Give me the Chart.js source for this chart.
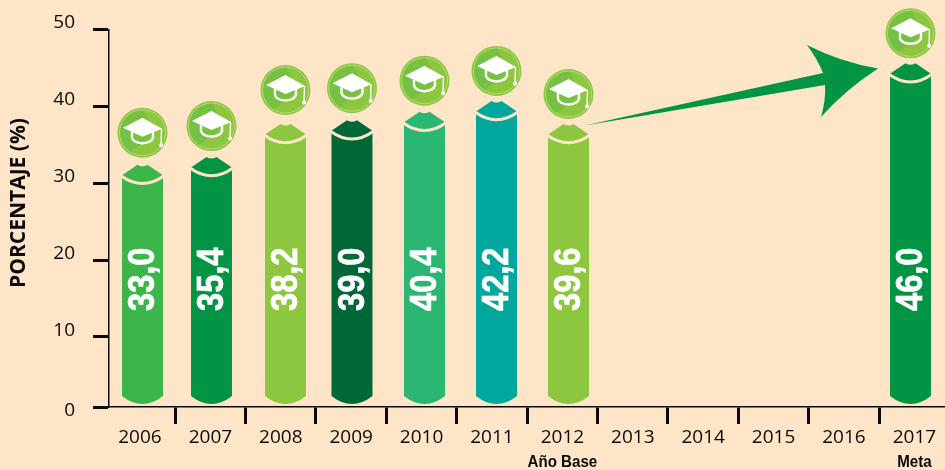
<!DOCTYPE html>
<html><head><meta charset="utf-8">
<style>html,body{margin:0;padding:0;background:#FEE5C8;overflow:hidden;width:945px;height:470px}canvas{display:block}</style>
<script src="https://cdn.jsdelivr.net/npm/chart.js@4/dist/chart.umd.js"></script>
</head><body><canvas id="c" width="960" height="470" style="width:960px;height:470px"></canvas>
<script>
// ---- data ----
const years = ['2006','2007','2008','2009','2010','2011','2012','2013','2014','2015','2016','2017'];
const barHeights = [32.4,33.4,37.7,38.2,39.3,40.7,37.7,null,null,null,null,45.6];
const barLabels = ['33,0','35,4','38,2','39,0','40,4','42,2','39,6',null,null,null,null,'46,0'];
const subLabels = ['','','','','','','Año Base','','','','','Meta'];
const yTicks = [50,40,30,20,10];
const yAxisTitle = 'PORCENTAJE (%)';
// ---- style ----
const BG='#FEE5C8', INK='#0A0A0A';
const barColors=['#3CB54A','#009444','#8DC63F','#006838','#2BB673','#00A79D','#8DC63F',null,null,null,null,'#009444'];
const nudge=[2.5,1.1,4.7,0.8,2.9,4.5,6.1,0,0,0,0,-3.9];
const badgeGap=[32,31,34,32,31,30,30,0,0,0,0,30];
const AXIS_FLOOR=0.87;   // the drawn axis squeezes the last interval: "0" sits at this height
const BAR_BASE=1.26;

Chart.BarElement.prototype.draw=function(ctx){
  const {x,y,base,width}=this, o=this.options, w=width/2;
  ctx.save();
  ctx.fillStyle=o.backgroundColor;
  ctx.beginPath();
  ctx.moveTo(x-w,y+10.5);
  ctx.lineTo(x-5,y);
  ctx.quadraticCurveTo(x,y+3,x+5,y);
  ctx.lineTo(x+w,y+10.5);
  ctx.lineTo(x+w,base-8);
  ctx.quadraticCurveTo(x,base+8,x-w,base-8);
  ctx.closePath();
  ctx.fill();
  ctx.strokeStyle=BG; ctx.lineWidth=3;
  ctx.beginPath();
  ctx.moveTo(x-w-1,y+11);
  ctx.quadraticCurveTo(x,y+26.5,x+w+1,y+11);
  ctx.stroke();
  ctx.restore();
};

function badge(ctx,cx,cy){
  ctx.save();
  ctx.translate(cx,cy);
  ctx.fillStyle='#8DC63F';
  ctx.beginPath();ctx.arc(0,0,25,0,Math.PI*2);ctx.fill();
  ctx.save();
  ctx.beginPath();ctx.arc(0,0,23,0,Math.PI*2);ctx.clip();
  ctx.fillStyle='#76C043';
  ctx.beginPath();ctx.moveTo(-12,19);ctx.lineTo(12,1);ctx.lineTo(0,-25);ctx.lineTo(-28,-10);ctx.lineTo(-28,19);ctx.closePath();ctx.fill();
  ctx.restore();
  ctx.strokeStyle='#B4DB7C';ctx.lineWidth=1;
  ctx.beginPath();ctx.arc(0,0,23,0,Math.PI*2);ctx.stroke();
  ctx.strokeStyle='#fff';ctx.lineWidth=2.4;
  ctx.beginPath();ctx.moveTo(-10.5,-1);ctx.lineTo(-10.5,5);ctx.quadraticCurveTo(-9,10,0,10.5);ctx.quadraticCurveTo(9,10,10.5,5);ctx.lineTo(10.5,-1);ctx.stroke();
  ctx.fillStyle='#fff';
  ctx.beginPath();ctx.moveTo(0,-15);ctx.lineTo(19.5,-4);ctx.lineTo(0,4);ctx.lineTo(-19.5,-5);ctx.closePath();ctx.fill();
  ctx.strokeStyle='#fff';ctx.lineWidth=1.4;
  ctx.beginPath();ctx.moveTo(19,-4);ctx.lineTo(18.6,11);ctx.stroke();
  ctx.beginPath();ctx.arc(18.6,12.5,2,0,Math.PI*2);ctx.fill();
  ctx.restore();
}

const decor={id:'decor',
  afterDatasetUpdate(chart){
    chart.getDatasetMeta(0).data.forEach((el,i)=>{el.x+=nudge[i];});
  },
  afterDatasetsDraw(chart){
    const ctx=chart.ctx, els=chart.getDatasetMeta(0).data;
    // arrow towards the 2017 target
    ctx.save();
    ctx.fillStyle='#009444';
    ctx.beginPath();
    ctx.moveTo(585,125.5);
    ctx.lineTo(823,73);
    ctx.quadraticCurveTo(818,60,807,45);
    ctx.quadraticCurveTo(840,62,878,68.5);
    ctx.quadraticCurveTo(845,90,821,117);
    ctx.quadraticCurveTo(826,100,825,85);
    ctx.closePath();
    ctx.fill();
    ctx.restore();
    els.forEach((el,i)=>{
      if(barHeights[i]===null) return;
      badge(ctx,el.x,el.y-badgeGap[i]);
      ctx.save();
      ctx.translate(el.x+0.5,311);
      ctx.rotate(-Math.PI/2);
      ctx.scale(0.87,1);
      ctx.fillStyle='#fff';ctx.strokeStyle='#fff';ctx.lineWidth=0.7;
      ctx.font='bold 37.5px "Liberation Sans"';
      ctx.textAlign='left';ctx.textBaseline='middle';
      ctx.fillText(barLabels[i],0,1);
      ctx.strokeText(barLabels[i],0,1);
      ctx.restore();
    });
    const xs=chart.scales.x;
    subLabels.forEach((t,i)=>{
      if(!t) return;
      ctx.save();
      ctx.translate(xs.getPixelForTick(i),462);
      ctx.scale(0.89,1);
      ctx.fillStyle=INK;
      ctx.font='bold 17px "Liberation Sans"';
      ctx.textAlign='center';ctx.textBaseline='middle';
      ctx.fillText(t,0,0);
      ctx.restore();
    });
    // vertical title
    ctx.save();
    ctx.translate(19,203);ctx.rotate(-Math.PI/2);
    ctx.fillStyle=INK;ctx.font='bold 21px "Open Sans"';
    ctx.textAlign='center';ctx.textBaseline='middle';
    ctx.fillText(yAxisTitle,0,0);
    ctx.restore();
  }
};

new Chart(document.getElementById('c'),{
  type:'bar',
  data:{labels:years,datasets:[{data:barHeights,backgroundColor:barColors.map(c=>c||'transparent'),base:BAR_BASE,barThickness:41}]},
  options:{
    responsive:false,animation:false,
    layout:{padding:{left:0,right:10.4,top:29.5,bottom:0}},
    plugins:{legend:{display:false},tooltip:{enabled:false},title:{display:false}},
    scales:{
      x:{type:'category',offset:true,
        afterFit(s){s.height=63;},
        // the first category starts a little left of the vertical axis
        afterUpdate(s){s._startValue=-0.44;s._valueRange=(s.right-s.left)/70.4;},
        grid:{drawOnChartArea:false,tickLength:17,tickWidth:3,offset:true,
          tickColor:c=>c.index===0?'rgba(0,0,0,0)':INK},
        border:{color:INK,width:1.5},
        ticks:{color:INK,font:{family:'"Open Sans"',size:19},padding:2,autoSkip:false,maxRotation:0}},
      y:{type:'linear',position:'left',min:AXIS_FLOOR,max:50,
        afterFit(s){s.width=109;s.paddingTop=0;s.paddingBottom=0;},
        afterBuildTicks(s){s.ticks=[...yTicks.map(v=>({value:v})),{value:AXIS_FLOOR}];},
        grid:{drawOnChartArea:false,tickLength:16,tickWidth:3,tickColor:INK},
        border:{color:INK,width:1.5},
        ticks:{color:INK,padding:18,autoSkip:false,
          font:c=>({family:'"Open Sans"',size:19,lineHeight:c.tick&&c.tick.value===AXIS_FLOOR?'8px':'13px'}),
          callback:v=>v===AXIS_FLOOR?['','0']:[String(v),'']}}
    }
  },
  plugins:[decor]
});
</script></body></html>
